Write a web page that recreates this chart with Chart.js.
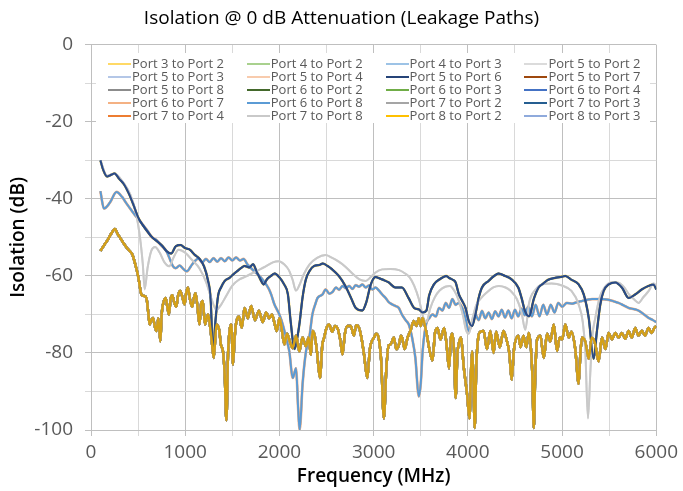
<!DOCTYPE html>
<html>
<head>
<meta charset="utf-8">
<title>Isolation @ 0 dB Attenuation</title>
<script src="https://cdn.jsdelivr.net/npm/chart.js@4.4.1/dist/chart.umd.min.js"></script>
<style>
  body { margin: 0; background: #fff; }
  #wrap { position: relative; width: 683px; height: 491px; }
  #legend {
    position: absolute; left: 96px; top: 53px; width: 554px; height: 70px;
    box-sizing: border-box; padding: 4px 0 0 12px; background: #fff;
    display: grid; grid-template-columns: repeat(4, 138.8px); grid-auto-rows: 13px;
    font-family: "Open Sans", sans-serif; font-size: 13px; color: #595959;
  }
  .item { display: flex; align-items: center; white-space: nowrap; line-height: 13px; }
  .swatch { display: inline-block; width: 23px; height: 2px; margin-right: 1px; }
</style>
</head>
<body>
<div id="wrap">
  <canvas id="myChart"></canvas>
  <div id="legend"></div>
</div>
<script>
// Series names, in legend order
const seriesNames = [
  "Port 3 to Port 2", "Port 4 to Port 2", "Port 4 to Port 3", "Port 5 to Port 2",
  "Port 5 to Port 3", "Port 5 to Port 4", "Port 5 to Port 6", "Port 5 to Port 7",
  "Port 5 to Port 8", "Port 6 to Port 2", "Port 6 to Port 3", "Port 6 to Port 4",
  "Port 6 to Port 7", "Port 6 to Port 8", "Port 7 to Port 2", "Port 7 to Port 3",
  "Port 7 to Port 4", "Port 7 to Port 8", "Port 8 to Port 2", "Port 8 to Port 3"
];
const legendColors = [
  "#FFD966", "#A9D18E", "#9DC3E6", "#DBDBDB",
  "#B4C7E7", "#F8CBAD", "#264478", "#9E480E",
  "#8C8C8C", "#43682B", "#70AD47", "#4472C4",
  "#F4B183", "#5B9BD5", "#A5A5A5", "#255E91",
  "#ED7D31", "#C9C9C9", "#FFC000", "#8FAADC"
];
// which measured trace each path follows (they overlap almost exactly)
const seriesTrace = [
  "top", "bottom", "middle", "gray",
  "bottom", "middle", "top", "bottom",
  "bottom", "bottom", "bottom", "bottom",
  "middle", "middle", "bottom", "top",
  "bottom", "gray", "bottom", "bottom"
];

// [MHz, dB]
const topTrace = [[100,-30],[130,-32.5],[170,-34.2],[210,-33.8],[250,-33.4],[300,-34.8],[350,-36.2],[400,-38.5],[450,-41.5],[500,-44.8],[550,-46.8],[600,-48.5],[650,-50],[700,-51],[750,-52],[800,-53.5],[850,-54.2],[900,-52.3],[950,-52],[1000,-52.8],[1050,-53.2],[1100,-54.5],[1150,-55.5],[1200,-57.5],[1240,-61],[1270,-66],[1295,-80],[1320,-72],[1350,-65],[1380,-63],[1420,-61.3],[1470,-60.5],[1510,-59.6],[1550,-58.8],[1590,-58],[1630,-57.4],[1680,-57.8],[1720,-57],[1760,-59],[1800,-61],[1830,-62.2],[1870,-60.8],[1910,-60],[1950,-59.4],[2000,-60.4],[2050,-62.2],[2090,-64.8],[2120,-72],[2160,-79],[2190,-76],[2215,-72],[2245,-65.7],[2280,-61],[2320,-58.7],[2370,-57.4],[2420,-57.2],[2460,-56.8],[2510,-57.4],[2560,-58.3],[2630,-60],[2700,-62.6],[2760,-65.7],[2810,-68.3],[2880,-69],[2920,-67],[2970,-62.2],[3020,-60.3],[3060,-60.6],[3100,-61],[3160,-61.7],[3230,-63],[3300,-63],[3370,-65.7],[3430,-68.3],[3480,-68.7],[3520,-69.5],[3560,-69],[3590,-65],[3640,-62.2],[3700,-60.9],[3770,-60],[3800,-60.5],[3840,-61],[3870,-61.7],[3905,-64.8],[3940,-66.5],[3975,-68.3],[4010,-71.7],[4045,-73],[4080,-70],[4115,-65.7],[4150,-63],[4220,-61.3],[4280,-60],[4325,-59.4],[4395,-60],[4465,-60.9],[4535,-63],[4570,-65.7],[4605,-69],[4650,-70.5],[4700,-66],[4750,-63],[4800,-62],[4850,-61],[4930,-60.5],[5000,-60.2],[5035,-60],[5100,-61],[5176,-62.2],[5230,-64.8],[5283,-70.9],[5335,-81.5],[5370,-74.3],[5406,-67.4],[5441,-63.9],[5494,-62.2],[5565,-61.7],[5635,-63],[5706,-65.7],[5777,-64.8],[5847,-63.5],[5918,-62.6],[5971,-62.2],[6000,-63.5]];

const grayTrace = [[100,-30],[170,-34],[250,-33.5],[350,-36],[420,-39],[480,-44],[520,-50],[550,-57],[570,-63.5],[600,-58],[640,-53.5],[680,-52.5],[730,-54],[780,-56.5],[830,-57.5],[880,-55],[930,-53.2],[1000,-54],[1070,-55.8],[1150,-58],[1220,-61.5],[1280,-66],[1330,-68.8],[1380,-67.5],[1430,-65.4],[1500,-62.5],[1570,-61],[1640,-60.2],[1750,-58.8],[1850,-57.6],[1930,-56.5],[1990,-56.2],[2050,-57],[2100,-58.5],[2140,-61],[2175,-63.8],[2210,-62.5],[2260,-59.5],[2320,-57],[2400,-55.3],[2490,-54.6],[2550,-55.2],[2630,-56.3],[2700,-57.6],[2780,-59.5],[2850,-60.9],[2915,-61.3],[2970,-60.3],[3020,-59.1],[3090,-58.3],[3180,-58.2],[3270,-58.5],[3330,-59.3],[3380,-60.3],[3430,-62.5],[3480,-66],[3530,-71],[3560,-72],[3600,-68.5],[3650,-65.5],[3700,-63.8],[3760,-62.8],[3810,-62.6],[3860,-64],[3905,-66.5],[3950,-70.5],[3980,-74],[4010,-75],[4050,-71],[4090,-67.5],[4150,-65.5],[4200,-64.3],[4270,-63],[4330,-62.6],[4400,-63],[4450,-63.8],[4520,-66],[4570,-69.5],[4610,-74],[4650,-67],[4720,-63.5],[4790,-62.2],[4890,-62],[5000,-62.5],[5100,-63.9],[5176,-67.4],[5220,-72],[5247,-79.6],[5275,-97],[5300,-85],[5320,-76],[5353,-70.9],[5400,-65.5],[5450,-63],[5530,-61.7],[5600,-61.8],[5660,-63],[5710,-64.8],[5760,-66],[5812,-67],[5860,-65.6],[5920,-63.9],[5970,-62],[6000,-62.5]];

const middleTrace = [[100,-38],[137,-42.5],[200,-41],[271,-38.2],[330,-39.5],[377,-41.2],[430,-43],[482,-44.7],[553,-46.8],[600,-48.3],[641,-49.8],[694,-50.7],[750,-52.2],[799,-53.5],[840,-55.8],[870,-57.5],[900,-58],[940,-57.3],[980,-58.2],[1020,-58.8],[1060,-57.5],[1100,-56.2],[1140,-55.5],[1180,-56.5],[1220,-55.6],[1260,-56.4],[1300,-55.4],[1340,-56.3],[1380,-55.4],[1420,-56.2],[1460,-55.2],[1500,-56],[1540,-55.2],[1580,-56],[1620,-55.6],[1660,-57],[1700,-58],[1740,-59],[1789,-60],[1830,-61.2],[1859,-62.2],[1890,-63.5],[1912,-64.8],[1947,-67.4],[1999,-70],[2035,-72.6],[2070,-76],[2105,-79.6],[2141,-86.5],[2176,-84],[2200,-95],[2215,-100],[2246,-88],[2282,-79.6],[2317,-76],[2350,-70],[2380,-67.4],[2405,-65.7],[2458,-64.8],[2490,-63.5],[2530,-64.6],[2563,-64.2],[2600,-63],[2634,-63.6],[2670,-62.6],[2704,-63.2],[2740,-62.6],[2775,-63.4],[2810,-62.4],[2845,-62.8],[2880,-62.2],[2915,-63],[2950,-62.5],[2986,-63.5],[3020,-63],[3056,-63.8],[3090,-64.8],[3126,-65.7],[3160,-66.8],[3197,-67.4],[3230,-67.8],[3267,-68.3],[3300,-70],[3340,-71.5],[3373,-72.6],[3408,-76],[3443,-81.3],[3479,-91.3],[3500,-88],[3520,-79.6],[3556,-72.6],[3590,-71],[3625,-70],[3660,-70.5],[3695,-68.3],[3730,-69],[3766,-67],[3800,-68.3],[3836,-66],[3870,-67.5],[3905,-67],[3940,-68.3],[3975,-70.9],[4010,-74.3],[4045,-72],[4080,-70],[4115,-71.5],[4150,-69.1],[4185,-71],[4220,-69.5],[4255,-71.2],[4290,-69.2],[4325,-70.5],[4360,-68.8],[4395,-70.8],[4430,-69],[4465,-71],[4500,-68.8],[4535,-70.5],[4570,-68.5],[4605,-70.2],[4640,-68],[4680,-70.5],[4720,-67.5],[4760,-70.5],[4800,-67.5],[4840,-70],[4880,-67.5],[4920,-69.5],[4960,-67],[5000,-68],[5050,-67],[5106,-67.2],[5160,-66.8],[5212,-66.5],[5265,-66.2],[5318,-66],[5400,-66],[5494,-66.2],[5550,-66.6],[5600,-67],[5650,-67.6],[5706,-68.3],[5760,-68.6],[5812,-69],[5870,-70],[5918,-70.9],[5960,-71.4],[6000,-72]];

const bottomTrace = [[100,-53.5],[140,-52],[180,-50.5],[220,-48.8],[254,-47.8],[280,-49],[306,-50],[340,-51.3],[377,-52.6],[410,-53.5],[440,-54.5],[470,-57],[500,-60],[535,-64.8],[560,-65.2],[588,-65.7],[610,-70],[623,-72.6],[640,-71.5],[658,-70.9],[676,-73],[694,-74.3],[715,-71],[736,-77],[750,-70],[764,-67.4],[792,-65.7],[810,-68],[827,-70],[845,-66],[862,-65],[885,-67],[905,-68],[925,-65],[947,-63.9],[970,-65.5],[993,-67.4],[1010,-64.5],[1028,-63],[1050,-66],[1074,-68],[1090,-66],[1109,-64.5],[1130,-68],[1151,-72.6],[1170,-67],[1186,-66.5],[1210,-72.6],[1240,-70],[1278,-76],[1303,-81.3],[1331,-72.6],[1360,-74],[1380,-78],[1401,-79.6],[1420,-86],[1437,-97.5],[1455,-80],[1472,-74],[1490,-72.6],[1507,-83],[1525,-76],[1542,-72],[1570,-70.5],[1600,-73.5],[1630,-68.3],[1665,-71],[1700,-67.8],[1740,-71.5],[1782,-69],[1824,-72],[1859,-69.5],[1890,-71],[1920,-70],[1950,-72.5],[1972,-74.3],[2000,-71],[2017,-72.6],[2053,-77.8],[2080,-75],[2110,-77],[2141,-78.7],[2176,-75.5],[2211,-79.6],[2245,-76],[2282,-78.3],[2310,-76],[2334,-80.5],[2352,-74.3],[2375,-75.5],[2400,-80],[2430,-86.5],[2455,-78],[2475,-76],[2500,-73.5],[2528,-72.6],[2560,-74.5],[2590,-73],[2616,-73.5],[2645,-76.5],[2669,-80.4],[2695,-75],[2722,-73],[2757,-73],[2790,-75.5],[2815,-72.8],[2845,-73.5],[2870,-76],[2898,-80.4],[2933,-86.5],[2960,-79],[3003,-76],[3030,-75],[3056,-76.5],[3080,-82],[3109,-97],[3135,-84],[3160,-78],[3179,-77.8],[3215,-76],[3240,-79],[3267,-78],[3290,-75.5],[3302,-76],[3330,-79],[3360,-76],[3390,-74.3],[3426,-71.7],[3455,-73],[3479,-71],[3500,-73],[3520,-70.9],[3545,-73],[3570,-76],[3591,-79],[3625,-82],[3650,-75],[3678,-73.5],[3710,-76.5],[3748,-73.5],[3775,-78],[3800,-84],[3820,-76],[3836,-75],[3855,-80],[3870,-91.7],[3890,-80],[3905,-77.5],[3925,-76],[3958,-84],[3993,-91],[4017,-97],[4035,-84],[4045,-79.6],[4060,-88],[4073,-99.5],[4090,-83],[4110,-76],[4133,-74.5],[4168,-74.3],[4203,-79],[4238,-74.3],[4273,-80],[4300,-74.5],[4340,-78.5],[4378,-74.3],[4410,-76.5],[4440,-80],[4465,-87],[4490,-79],[4535,-75.5],[4560,-78.5],[4590,-75.5],[4620,-78.5],[4647,-74.8],[4670,-79],[4685,-86],[4700,-99.5],[4715,-86],[4735,-76.5],[4770,-75.5],[4806,-81.3],[4841,-75],[4876,-77],[4912,-72.6],[4947,-79.5],[4975,-76],[5000,-76.5],[5035,-72.6],[5070,-76],[5100,-74.5],[5140,-79],[5176,-88],[5195,-80],[5212,-76],[5245,-77],[5283,-81.5],[5315,-76],[5350,-77.5],[5388,-82.2],[5424,-76],[5460,-79],[5494,-74.8],[5530,-76.5],[5565,-74.8],[5600,-76],[5635,-74.8],[5670,-76.3],[5706,-74.3],[5740,-76],[5777,-73.5],[5810,-75.5],[5847,-74.2],[5880,-75.5],[5918,-73.5],[5950,-74.8],[5980,-73.5],[6000,-73]];

const traces = { top: topTrace, gray: grayTrace, middle: middleTrace, bottom: bottomTrace };

// axis ticks
const xTicks = [0, 1000, 2000, 3000, 4000, 5000, 6000];
const yTicks = [0, -20, -40, -60, -80, -100];

// plotted colour where it differs a little from the legend swatch
const lineColors = legendColors.slice();
lineColors[6] = "#2B4A85";
lineColors[18] = "#D4A017";

// which line sits on top in each bundle (lower order = drawn later)
function drawOrder(i) {
  if (i === 18) return -3;
  if (i === 6) return -2;
  return 20 - i;
}
// a couple of hidden lines are a bit wider so their colour shows at the edges
function lineWidth(i) {
  if (i === 0 || i === 12) return 2.7;
  if (seriesTrace[i] === "bottom") return 2.4;
  return 2;
}

const datasets = seriesNames.map((name, i) => ({
  label: name,
  data: traces[seriesTrace[i]].map(p => ({ x: p[0], y: p[1] })),
  borderColor: lineColors[i],
  legendColor: legendColors[i],
  backgroundColor: lineColors[i],
  borderWidth: lineWidth(i),
  pointRadius: 0,
  cubicInterpolationMode: "monotone",
  order: drawOrder(i),
}));

const tickFont = { family: "Open Sans", size: 19 };
const titleFont = { family: "Open Sans", size: 19, weight: "600" };

const ctx = document.getElementById("myChart");
const chart = new Chart(ctx, {
  type: "line",
  data: { datasets: datasets },
  options: {
    responsive: true,
    maintainAspectRatio: false,
    animation: false,
    layout: { padding: 0 },
    plugins: {
      legend: { display: false },
      tooltip: { enabled: false },
      title: {
        display: true,
        text: "Isolation @ 0 dB Attenuation (Leakage Paths)",
        color: "#000",
        font: { family: "Open Sans", size: 19, weight: "500" },
        padding: { top: 7, bottom: 15 },
      },
    },
    scales: {
      x: {
        type: "linear",
        min: 0,
        max: 6000,
        afterFit: (s) => { s.height = 61; },
        ticks: {
          stepSize: 500,
          autoSkip: false,
          maxRotation: 0,
          padding: 5,
          color: "#595959",
          font: tickFont,
          callback: (v) => (xTicks.includes(v) ? String(v) : ""),
        },
        grid: {
          color: (c) => (c.tick && c.tick.value % 1000 === 0 ? "#bfbfbf" : "#d9d9d9"),
          tickLength: 6,
        },
        border: { color: "#bfbfbf" },
        title: {
          display: true,
          text: "Frequency (MHz)",
          color: "#000",
          font: titleFont,
          padding: { top: 0, bottom: 3 },
        },
      },
      y: {
        min: -100,
        max: 0,
        afterFit: (s) => { s.width = 91; },
        ticks: {
          stepSize: 10,
          autoSkip: false,
          padding: 12,
          color: "#595959",
          font: tickFont,
          callback: (v) => (yTicks.includes(v) ? String(v) : ""),
        },
        grid: {
          color: (c) => (c.tick && c.tick.value % 20 === 0 ? "#bfbfbf" : "#d9d9d9"),
          tickLength: 6,
        },
        border: { color: "#bfbfbf" },
        title: {
          display: true,
          text: "Isolation (dB)",
          color: "#000",
          font: titleFont,
          padding: { top: 7, bottom: 0 },
        },
      },
      // empty right margin so the title stays centred on the whole chart
      spacer: {
        position: "right",
        min: 0,
        max: 1,
        afterFit: (s) => { s.width = 25; },
        ticks: { display: false },
        grid: { display: false },
        border: { display: false },
      },
    },
  },
});

// HTML legend laid out as a 4 column grid inside the plot
const legendBox = document.getElementById("legend");
chart.data.datasets.forEach((ds) => {
  const item = document.createElement("div");
  item.className = "item";
  const sw = document.createElement("span");
  sw.className = "swatch";
  sw.style.background = ds.legendColor;
  const tx = document.createElement("span");
  tx.textContent = ds.label;
  item.append(sw, tx);
  legendBox.appendChild(item);
});
</script>
</body>
</html>
